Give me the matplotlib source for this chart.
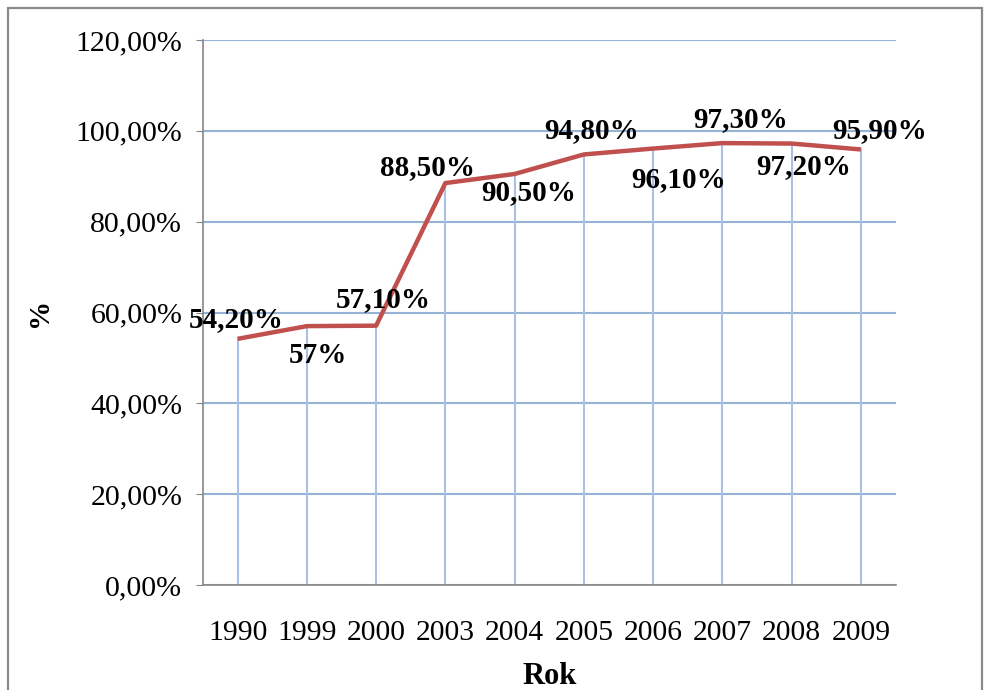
import matplotlib
matplotlib.use("Agg")
import matplotlib.pyplot as plt
from matplotlib.ticker import FuncFormatter, MultipleLocator
from matplotlib.patches import Rectangle

years = ["1990", "1999", "2000", "2003", "2004", "2005", "2006", "2007", "2008", "2009"]
values = [54.2, 57.0, 57.1, 88.5, 90.5, 94.8, 96.1, 97.3, 97.2, 95.9]
labels = ["54,20%", "57%", "57,10%", "88,50%", "90,50%", "94,80%", "96,10%", "97,30%", "97,20%", "95,90%"]

# label offsets in pixels (dx, dy) relative to each point
offsets = [(-1, 19), (11, -29), (7, 26), (-18, 16), (14, -19), (8, 24), (25, -31), (18, 24), (12, -23), (19, 19)]

plt.rcParams['font.family'] = ['Liberation Serif', 'DejaVu Serif']

W, H = 985, 690
fig = plt.figure(figsize=(W / 100, H / 100), dpi=100)
fig.patch.set_facecolor('white')
fig.patches.append(Rectangle((8 / W, -0.05), (982 - 8) / W, 1.05 - 8 / H,
                             transform=fig.transFigure, fill=False,
                             edgecolor='#8a8a8a', lw=1.6))

ax = fig.add_axes([203 / W, 105 / H, (895.5 - 203) / W, (650 - 105) / H])
x = list(range(len(years)))

ax.set_xlim(-0.5, len(years) - 0.5)
ax.set_ylim(0, 120)
ax.yaxis.set_major_locator(MultipleLocator(20))
ax.yaxis.set_major_formatter(FuncFormatter(lambda v, p: f"{v:.2f}".replace('.', ',') + "%"))
ax.grid(axis='y', color='#95B3D7', lw=1.5)
ax.set_axisbelow(True)

for xi, v in zip(x, values):
    ax.plot([xi, xi], [0, v], color='#A9C1E6', lw=1.5, zorder=1)

ax.plot(x, values, color='#C0504D', lw=3.2, zorder=3, solid_capstyle='butt')

for xi, v, lab, (dx, dy) in zip(x, values, labels, offsets):
    ax.annotate(lab, (xi, v), xytext=(dx * 0.72, dy * 0.72), textcoords='offset points',
                ha='center', va='center', fontsize=21, fontweight='bold', color='black', zorder=4)

ax.set_xticks(x)
ax.set_xticklabels(years)
for s in ['top', 'right']:
    ax.spines[s].set_visible(False)
for s in ['left', 'bottom']:
    ax.spines[s].set_color('#868686')
    ax.spines[s].set_linewidth(1.2)
ax.tick_params(axis='y', length=5, color='#868686', labelsize=21.5, pad=10)
ax.tick_params(axis='x', length=0, labelsize=21.3, pad=25)

ax.set_xlabel("Rok", fontsize=22, fontweight='bold', labelpad=12)
ax.set_ylabel("%", fontsize=21, fontweight='bold', labelpad=16)

fig.savefig("out.png", dpi=100)
